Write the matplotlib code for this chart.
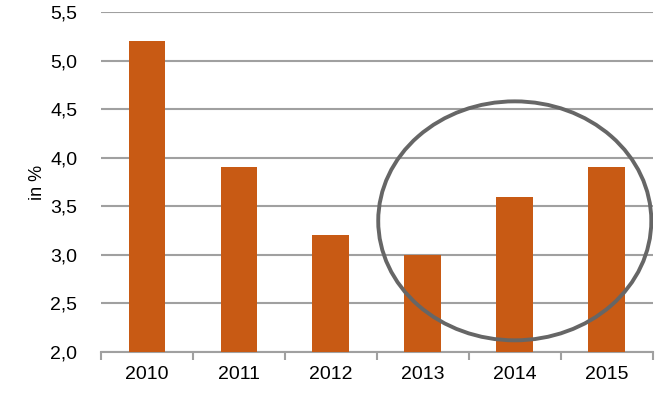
import matplotlib.pyplot as plt
from matplotlib.patches import Ellipse

# Data
years = ['2010', '2011', '2012', '2013', '2014', '2015']
values = [5.2, 3.9, 3.2, 3.0, 3.6, 3.9]
y_ticks = [2.0, 2.5, 3.0, 3.5, 4.0, 4.5, 5.0, 5.5]

plt.rcParams['font.family'] = ['Liberation Sans', 'DejaVu Sans']

fig = plt.figure(figsize=(6.66, 3.97), dpi=100)
ax = fig.add_axes([0.1517, 0.1134, 0.8283, 0.8564])

x = list(range(len(years)))
ax.bar(x, values, width=0.4, color='#C85A14', zorder=3)

ax.set_xlim(-0.5, len(years) - 0.5)
ax.set_ylim(2.0, 5.5)
ax.set_yticks(y_ticks)
ax.set_yticklabels([f'{v:.1f}'.replace('.', ',') for v in y_ticks], fontsize=14)
ax.set_xticks(x)
ax.set_xticklabels(years, fontsize=14)
ax.set_ylabel('in %', fontsize=13, labelpad=3)

# gridlines
ax.yaxis.grid(True, color='#A0A0A0', linewidth=1.5, zorder=0)
ax.tick_params(axis='y', length=0, pad=17)
ax.tick_params(axis='x', length=0, pad=10)

# boundary tick marks on x-axis
ax.set_xticks([i - 0.5 for i in range(len(years) + 1)], minor=True)
ax.tick_params(axis='x', which='minor', length=6, width=1.5, color='#A0A0A0', direction='out')

for side in ['top', 'right', 'left']:
    ax.spines[side].set_visible(False)
ax.spines['bottom'].set_color('#A0A0A0')
ax.spines['bottom'].set_linewidth(1.5)

# highlight ellipse
ell = Ellipse((4.0, 3.35), width=2.97, height=2.46, fill=False,
              edgecolor='#666666', linewidth=2.8, zorder=4)
ax.add_patch(ell)

fig.savefig('out.png', dpi=100)
